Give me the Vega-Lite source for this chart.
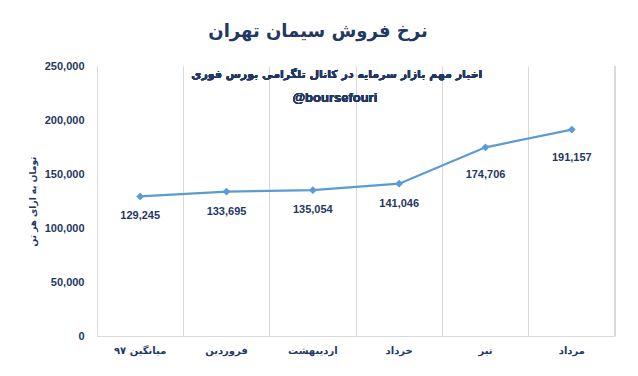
{
  "$schema": "https://vega.github.io/schema/vega-lite/v6.json",
  "autosize": "none",
  "width": 518,
  "height": 270,
  "padding": {"left": 97, "top": 66, "right": 23, "bottom": 40},
  "background": "white",
  "config": {"view": {"stroke": null}, "font": "DejaVu Sans"},
  "title": {
    "text": "نرخ فروش سیمان تهران",
    "font": "DejaVu Sans",
    "fontSize": 18,
    "fontWeight": "bold",
    "color": "#1F3864",
    "anchor": "middle",
    "dx": -38,
    "offset": 19
  },
  "data": {
    "values": [
      {"month": "میانگین ۹۷", "price": 129245},
      {"month": "فروردین", "price": 133695},
      {"month": "اردیبهشت", "price": 135054},
      {"month": "خرداد", "price": 141046},
      {"month": "تیر", "price": 174706},
      {"month": "مرداد", "price": 191157}
    ]
  },
  "encoding": {
    "x": {
      "field": "month",
      "type": "nominal",
      "sort": null,
      "scale": {"domain": ["میانگین ۹۷", "فروردین", "اردیبهشت", "خرداد", "تیر", "مرداد"], "paddingInner": 0, "paddingOuter": 0},
      "axis": {
        "title": null,
        "labelAngle": 0,
        "labelFont": "DejaVu Sans",
        "labelFontSize": 10,
        "labelFontWeight": "bold",
        "labelColor": "#1F3864",
        "labelPadding": 9,
        "ticks": false,
        "domainColor": "#D9D9D9",
        "domainWidth": 1,
        "grid": true,
        "bandPosition": 0,
        "gridColor": "#D9D9D9",
        "gridWidth": 1
      }
    },
    "y": {
      "field": "price",
      "type": "quantitative",
      "scale": {"domain": [0, 250000], "nice": false},
      "axis": {
        "title": "تومان به ازای هر تن",
        "titleFont": "DejaVu Sans",
        "titleFontSize": 9,
        "titleFontWeight": "bold",
        "titleColor": "#1F3864",
        "titlePadding": 7,
        "values": [0, 50000, 100000, 150000, 200000, 250000],
        "format": ",d",
        "labelFont": "Liberation Sans",
        "labelFontSize": 11,
        "labelFontWeight": "bold",
        "labelColor": "#1F3864",
        "labelPadding": 13,
        "ticks": false,
        "domain": false,
        "grid": false
      }
    }
  },
  "layer": [
    {
      "mark": {"type": "rule", "color": "#D9D9D9", "strokeWidth": 1},
      "encoding": {
        "x": {"datum": "مرداد", "bandPosition": 1},
        "y": {"datum": 0},
        "y2": {"datum": 250000}
      }
    },
    {
      "mark": {"type": "line", "color": "#5B9BD5", "strokeWidth": 2.25},
      "encoding": {}
    },
    {
      "mark": {"type": "point", "shape": "diamond", "filled": true, "color": "#5B9BD5", "opacity": 1, "size": 60},
      "encoding": {}
    },
    {
      "transform": [{"filter": "datum.price < 150000"}],
      "mark": {"type": "text", "dy": 20, "font": "Liberation Sans", "fontSize": 11, "fontWeight": "bold", "color": "#1F3864"},
      "encoding": {"text": {"field": "price", "type": "quantitative", "format": ",d"}}
    },
    {
      "transform": [{"filter": "datum.price >= 150000"}],
      "mark": {"type": "text", "dy": 28, "font": "Liberation Sans", "fontSize": 11, "fontWeight": "bold", "color": "#1F3864"},
      "encoding": {"text": {"field": "price", "type": "quantitative", "format": ",d"}}
    },
    {
      "mark": {"type": "text", "text": "اخبار مهم بازار سرمایه در کانال تلگرامی بورس فوری", "font": "DejaVu Sans", "fontSize": 11, "fontWeight": "bold", "color": "#1F3864", "dx": 24},
      "encoding": {"x": {"datum": "اردیبهشت"}, "y": {"datum": 241500}}
    },
    {
      "mark": {"type": "text", "text": "@boursefouri", "font": "Liberation Sans", "fontSize": 13, "fontWeight": "bold", "color": "#1F3864", "dx": 22},
      "encoding": {"x": {"datum": "اردیبهشت"}, "y": {"datum": 220500}}
    }
  ]
}
